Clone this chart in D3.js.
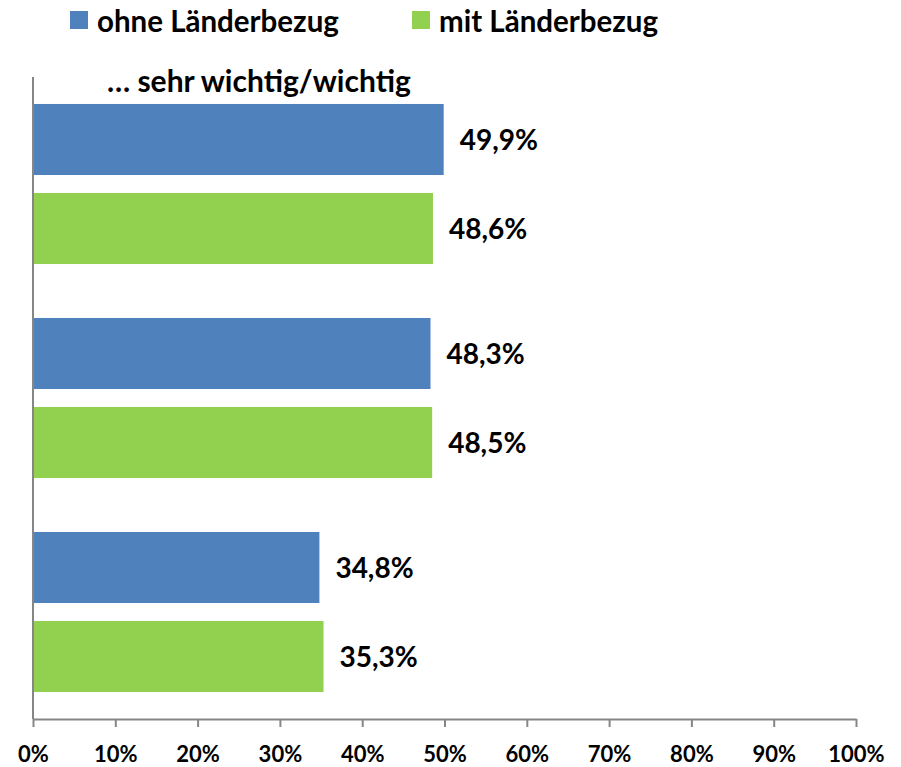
<!DOCTYPE html>
<html><head><meta charset="utf-8">
<script src="https://cdn.jsdelivr.net/npm/d3@7"></script>
<style>body{margin:0;background:#fff;} svg{display:block;} text{font-family:Lato,"Open Sans",sans-serif;font-weight:bold;fill:#000;}</style>
</head><body>
<script>
const categories = ["Kategorie 1", "Kategorie 2", "Kategorie 3"];
const seriesNames = ["ohne Länderbezug", "mit Länderbezug"];
const ohneValues = [49.9, 48.3, 34.8];
const mitValues = [48.6, 48.5, 35.3];
const tickValues = [0,10,20,30,40,50,60,70,80,90,100];
const colors = ["#4F81BD", "#92D050"];
const title = "… sehr wichtig/wichtig";

const W = 901, H = 767;
const svg = d3.select("body").append("svg").attr("width", W).attr("height", H);

const x = d3.scaleLinear().domain([0,100]).range([33, 856]);
const y0 = d3.scaleBand().domain(categories).range([77, 719]).padding(0);
const y1 = d3.scaleBand().domain(seriesNames).range([0, y0.bandwidth()]).paddingInner(0.202).paddingOuter(0.303);

const data = categories.map((c,i)=>({cat:c, vals:[ohneValues[i], mitValues[i]]}));

// bars
const g = svg.append("g");
data.forEach(d=>{
  d.vals.forEach((v,j)=>{
    const yy = y0(d.cat) + y1(seriesNames[j]);
    g.append("rect").attr("x", x(0)).attr("y", yy)
      .attr("width", x(v)-x(0)).attr("height", y1.bandwidth()).attr("fill", colors[j]);
    g.append("text").attr("x", x(v)+16).attr("y", yy + y1.bandwidth()/2 + 10.5)
      .attr("font-size", 28).text(d3.format(".1f")(v).replace(".", ",") + "%");
  });
});

// axes
const axisColor = "#868686";
svg.append("line").attr("x1", x(0)).attr("x2", x(0)).attr("y1", 77).attr("y2", 719)
  .attr("stroke", axisColor).attr("stroke-width", 2);
const xAxis = svg.append("g").attr("transform", "translate(0,719)")
  .call(d3.axisBottom(x).tickValues(tickValues).tickSize(8).tickSizeOuter(0).tickFormat(d=>d+"%"));
xAxis.select(".domain").attr("stroke", axisColor).attr("stroke-width", 2);
xAxis.selectAll(".tick line").attr("stroke", axisColor).attr("stroke-width", 2);
xAxis.selectAll(".tick text").attr("font-size", 22).attr("font-family", "Lato,sans-serif")
  .attr("font-weight", "bold").attr("fill", "#000").attr("y", 27);

// title
svg.append("text").attr("x", 107).attr("y", 92).attr("font-size", 30).text(title);

// legend
const legX = [70, 412];
seriesNames.forEach((s,j)=>{
  svg.append("rect").attr("x", legX[j]).attr("y", 11).attr("width", 18).attr("height", 18).attr("fill", colors[j]);
  svg.append("text").attr("x", legX[j]+27).attr("y", 32).attr("font-size", 29.5).text(s);
});
</script>
</body></html>
